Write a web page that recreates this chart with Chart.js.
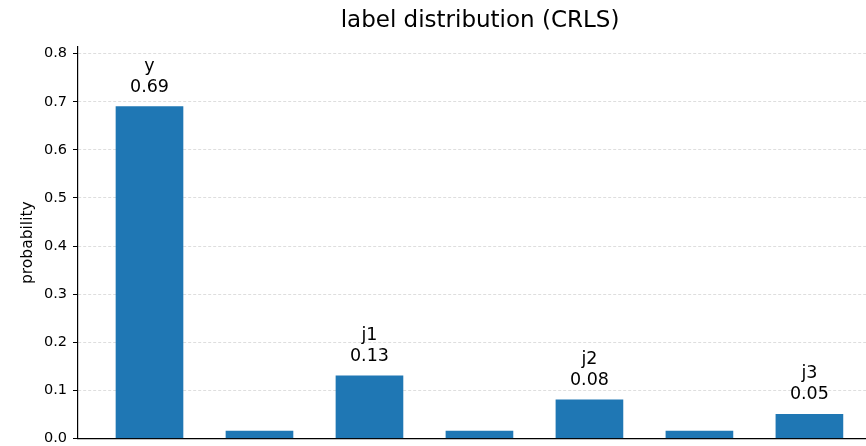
<!DOCTYPE html>
<html>
<head>
<meta charset="utf-8">
<script src="https://cdn.jsdelivr.net/npm/chart.js@4.4.1/dist/chart.umd.min.js"></script>
<style>
  html, body { margin: 0; padding: 0; background: #fff; overflow: hidden; }
  #wrap { width: 866px; height: 446px; overflow: hidden; position: relative; }
  #chart { position: absolute; left: 0; top: 0; }
</style>
</head>
<body>
<div id="wrap"><canvas id="chart" width="960" height="453"></canvas></div>
<script>
  // data
  const positions = [0, 1, 2, 3, 4, 5, 6];
  const probabilities = [0.69, 0.015, 0.13, 0.015, 0.08, 0.015, 0.05];
  const barNames = ['y', '', 'j1', '', 'j2', '', 'j3'];
  const titleText = 'label distribution (CRLS)';
  const yLabel = 'probability';

  const FONT = "'DejaVu Sans', sans-serif";

  // title centred on the plot area, like matplotlib does
  const titlePlugin = {
    id: 'axesTitle',
    afterDraw(chart) {
      const { ctx, chartArea } = chart;
      ctx.save();
      ctx.font = `23px ${FONT}`;
      ctx.fillStyle = '#000';
      ctx.textAlign = 'center';
      ctx.textBaseline = 'alphabetic';
      ctx.fillText(titleText, (chartArea.left + chartArea.right) / 2, 27);
      ctx.restore();
    }
  };

  // "name / value" annotations over the named bars
  const barLabels = {
    id: 'barLabels',
    afterDatasetsDraw(chart) {
      const { ctx } = chart;
      const meta = chart.getDatasetMeta(0);
      ctx.save();
      ctx.font = `17.5px ${FONT}`;
      ctx.fillStyle = '#000';
      ctx.textAlign = 'center';
      ctx.textBaseline = 'alphabetic';
      meta.data.forEach((bar, i) => {
        if (!barNames[i]) {
          return;
        }
        ctx.fillText(probabilities[i].toFixed(2), bar.x, bar.y - 15);
        ctx.fillText(barNames[i], bar.x, bar.y - 36);
      });
      ctx.restore();
    }
  };

  new Chart(document.getElementById('chart').getContext('2d'), {
    type: 'bar',
    data: {
      datasets: [{
        data: positions.map((x, i) => ({ x, y: probabilities[i] })),
        backgroundColor: '#1f77b4',
        borderWidth: 0,
        barThickness: 67,
      }]
    },
    options: {
      responsive: false,
      animation: false,
      layout: { padding: { top: 47, right: 78, bottom: 1, left: 0 } },
      plugins: {
        legend: { display: false },
        tooltip: { enabled: false },
        title: { display: false },
      },
      scales: {
        x: {
          type: 'linear',
          min: -0.65,
          max: 6.66,
          offset: false,
          grid: { display: false, drawTicks: false },
          ticks: { display: false },
          border: { display: true, color: '#000', width: 1.2 },
        },
        y: {
          min: 0,
          max: 0.814,
          afterFit: (scale) => { scale.width = 78; },
          ticks: {
            stepSize: 0.1,
            includeBounds: false,
            padding: 6,
            color: '#000',
            font: { family: FONT, size: 14.5 },
            callback: (v) => Number(v).toFixed(1),
          },
          grid: {
            color: 'rgba(185,185,185,0.6)',
            lineWidth: 0.8,
            tickLength: 5,
            tickColor: '#000',
            tickWidth: 1,
            tickBorderDash: [],
          },
          border: { display: true, color: '#000', width: 1.2, dash: [3, 2] },
          title: {
            display: true,
            text: yLabel,
            color: '#000',
            font: { family: FONT, size: 15.5 },
            padding: { top: 19, bottom: 0 },
          },
        }
      }
    },
    plugins: [titlePlugin, barLabels]
  });
</script>
</body>
</html>
